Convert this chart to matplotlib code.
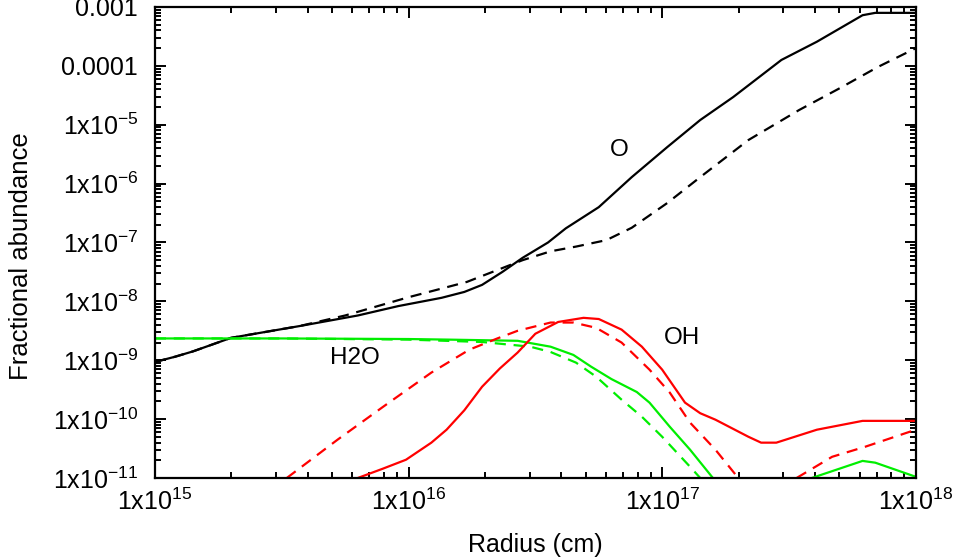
import numpy as np
import matplotlib
matplotlib.use("Agg")
from matplotlib import pyplot as plt
from matplotlib.ticker import FuncFormatter, LogLocator, NullFormatter

plt.rcParams['font.family'] = ['Liberation Sans', 'DejaVu Sans']
plt.rcParams['mathtext.fontset'] = 'custom'
plt.rcParams['mathtext.rm'] = 'Liberation Sans'
plt.rcParams['mathtext.it'] = 'Liberation Sans:italic'

# Values, as log10(radius / cm) and log10(abundance)
o_solid_logr = [15.0, 15.08, 15.15, 15.3, 15.57, 15.8, 15.96, 16.13, 16.22, 16.29, 16.37,
                16.45, 16.55, 16.62, 16.75, 16.88, 17.02, 17.15, 17.28, 17.47, 17.61,
                17.79, 17.84, 18.0]
o_solid_logy = [-9.03, -8.94, -8.85, -8.62, -8.42, -8.24, -8.08, -7.94, -7.84, -7.72, -7.50,
                -7.26, -7.00, -6.76, -6.40, -5.89, -5.38, -4.92, -4.53, -3.90, -3.59,
                -3.14, -3.10, -3.10]

o_dash_logr = [15.0, 15.08, 15.15, 15.3, 15.57, 15.75, 16.0, 16.23, 16.45, 16.56, 16.66,
               16.78, 16.88, 17.02, 17.15, 17.34, 17.54, 17.70, 17.85, 18.0]
o_dash_logy = [-9.03, -8.94, -8.85, -8.62, -8.42, -8.24, -7.93, -7.67, -7.30, -7.15, -7.07,
               -6.96, -6.75, -6.33, -5.89, -5.26, -4.75, -4.38, -4.02, -3.70]

h2o_solid_logr = [15.0, 15.5, 16.0, 16.16, 16.43, 16.56, 16.65, 16.72, 16.80, 16.90,
                  16.95, 17.03, 17.11, 17.20]
h2o_solid_logy = [-8.63, -8.63, -8.64, -8.65, -8.67, -8.77, -8.91, -9.11, -9.32, -9.54,
                  -9.72, -10.13, -10.52, -11.0]
h2o_solid_tail_logr = [17.59, 17.79, 17.84, 18.0]
h2o_solid_tail_logy = [-11.0, -10.71, -10.74, -10.98]

h2o_dash_logr = [15.0, 15.5, 16.0, 16.29, 16.48, 16.56, 16.66, 16.74, 16.84, 16.92,
                 17.0, 17.11, 17.15]
h2o_dash_logy = [-8.63, -8.63, -8.65, -8.69, -8.77, -8.86, -9.04, -9.28, -9.67, -9.96,
                 -10.30, -10.81, -11.0]

oh_solid_logr = [15.80, 15.90, 15.99, 16.09, 16.15, 16.22, 16.29, 16.36, 16.43, 16.50,
                 16.59, 16.69, 16.75, 16.84, 16.92, 17.0, 17.09, 17.15, 17.21, 17.34,
                 17.39, 17.45, 17.53, 17.61, 17.79, 18.0]
oh_solid_logy = [-11.0, -10.84, -10.69, -10.40, -10.18, -9.85, -9.45, -9.14, -8.87, -8.55,
                 -8.35, -8.28, -8.30, -8.48, -8.77, -9.16, -9.72, -9.90, -10.01, -10.30,
                 -10.40, -10.40, -10.29, -10.18, -10.03, -10.03]

oh_dash_logr = [15.52, 15.72, 15.90, 16.09, 16.24, 16.35, 16.43, 16.56, 16.65, 16.74,
                16.84, 16.95, 17.03, 17.11, 17.21, 17.30]
oh_dash_logy = [-11.0, -10.35, -9.79, -9.21, -8.82, -8.63, -8.50, -8.36, -8.36, -8.45,
                -8.70, -9.16, -9.55, -10.06, -10.52, -11.0]
oh_dash_tail_logr = [17.53, 17.67, 17.80, 18.0]
oh_dash_tail_logy = [-11.0, -10.64, -10.47, -10.18]


def pw(v):
    return np.power(10.0, np.array(v))


def ylabel_fmt(v, pos):
    e = int(round(np.log10(v)))
    if e == -3:
        return "0.001"
    if e == -4:
        return "0.0001"
    return r"1x10$^{%d}$" % e


def xlabel_fmt(v, pos):
    e = int(round(np.log10(v)))
    return r"1x10$^{%d}$" % e


fig = plt.figure(figsize=(9.62, 5.58), dpi=100)
ax = fig.add_axes([0.161, 0.1434, 0.791, 0.8441])

lw = 1.6
dash = (0, (5, 3.5))
green = '#00ee00'
red = '#ff0000'

ax.plot(pw(o_solid_logr), pw(o_solid_logy), color='black', lw=lw)
ax.plot(pw(o_dash_logr), pw(o_dash_logy), color='black', lw=lw, linestyle=dash)
ax.plot(pw(h2o_solid_logr), pw(h2o_solid_logy), color=green, lw=lw)
ax.plot(pw(h2o_solid_tail_logr), pw(h2o_solid_tail_logy), color=green, lw=lw)
ax.plot(pw(h2o_dash_logr), pw(h2o_dash_logy), color=green, lw=lw, linestyle=dash)
ax.plot(pw(oh_solid_logr), pw(oh_solid_logy), color=red, lw=lw)
ax.plot(pw(oh_dash_logr), pw(oh_dash_logy), color=red, lw=lw, linestyle=dash)
ax.plot(pw(oh_dash_tail_logr), pw(oh_dash_tail_logy), color=red, lw=lw, linestyle=dash)

ax.set_xscale('log')
ax.set_yscale('log')
ax.set_xlim(1e15, 1e18)
ax.set_ylim(1e-11, 1e-3)

ax.xaxis.set_major_locator(LogLocator(base=10, numticks=10))
ax.yaxis.set_major_locator(LogLocator(base=10, numticks=20))
ax.xaxis.set_minor_locator(LogLocator(base=10, subs=np.arange(2, 10), numticks=10))
ax.yaxis.set_minor_locator(LogLocator(base=10, subs=np.arange(2, 10), numticks=20))
ax.xaxis.set_major_formatter(FuncFormatter(xlabel_fmt))
ax.yaxis.set_major_formatter(FuncFormatter(ylabel_fmt))
ax.xaxis.set_minor_formatter(NullFormatter())
ax.yaxis.set_minor_formatter(NullFormatter())

ax.tick_params(which='both', direction='in', top=True, right=True, width=1.4, labelsize=18)
ax.tick_params(which='major', length=8)
ax.tick_params(which='minor', length=4)
ax.tick_params(axis='y', which='major', pad=12)
ax.tick_params(axis='x', which='major', pad=8)
for s in ax.spines.values():
    s.set_linewidth(1.6)

ax.set_xlabel("Radius (cm)", fontsize=18, va='center')
ax.set_ylabel("Fractional abundance", fontsize=18.5, va='center')
ax.xaxis.set_label_coords(0.5, -0.142)
ax.yaxis.set_label_coords(-0.176, 0.47)

ax.text(10**16.83, 10**-5.43, "O", fontsize=17.5, ha='center', va='center')
ax.text(10**15.79, 10**-8.96, "H2O", fontsize=17.5, ha='center', va='center')
ax.text(10**17.08, 10**-8.62, "OH", fontsize=17.5, ha='center', va='center')

fig.savefig("out.png", dpi=100)
